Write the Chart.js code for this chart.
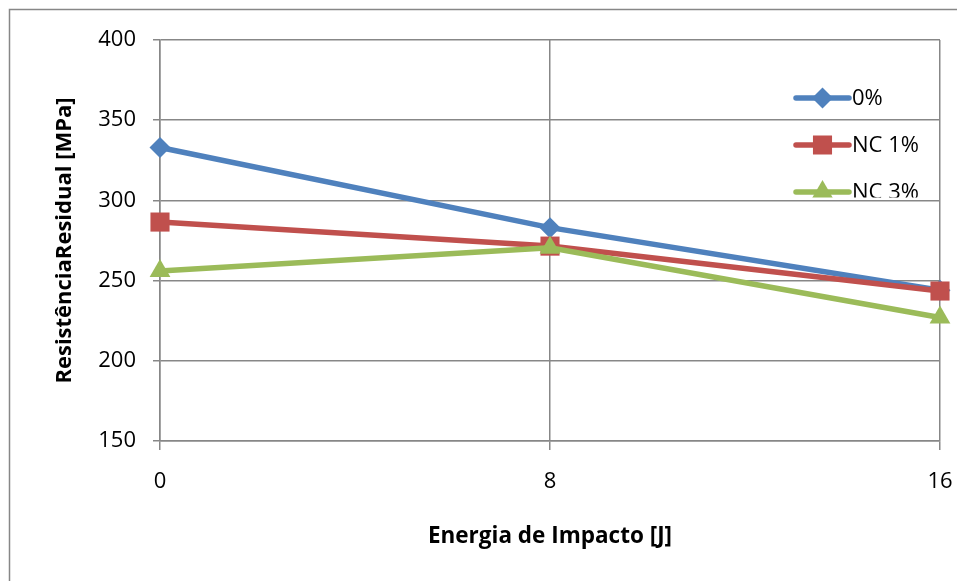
<!DOCTYPE html>
<html>
<head>
<meta charset="utf-8">
<script src="https://cdn.jsdelivr.net/npm/chart.js@4/dist/chart.umd.min.js"></script>
<style>
  html, body { margin: 0; padding: 0; background: #fff; }
  #wrap { width: 957px; height: 581px; position: relative; }
</style>
</head>
<body>
<div id="wrap"><canvas id="c" width="957" height="581"></canvas></div>
<script>
// Impact energy (J) on the x axis
const energy = [0, 8, 16];
// Residual strength (MPa) for each nanoclay content
const series0 = [333, 283, 244];
const seriesNC1 = [286.5, 271.5, 243.5];
const seriesNC3 = [256, 270.5, 227];
const seriesNames = ['0%', 'NC 1%', 'NC 3%'];
const yTicks = [150, 200, 250, 300, 350, 400];

const FONT = '"Open Sans", "Noto Sans", sans-serif';
const GRID = '#878787';
const colors = ['#4F81BD', '#C0504D', '#9BBB59'];
const markers = ['rectRot', 'rect', 'triangle'];
const radii = [10.5, 13.5, 12];

function pairs(xs, ys) { return xs.map((x, i) => ({ x: x, y: ys[i] })); }

const allSeries = [series0, seriesNC1, seriesNC3];
const datasets = allSeries.map((s, i) => ({
  label: seriesNames[i],
  data: pairs(energy, s),
  borderColor: colors[i],
  backgroundColor: colors[i],
  borderWidth: 5.5,
  pointStyle: markers[i],
  pointRadius: radii[i],
  pointHoverRadius: radii[i],
  pointBorderWidth: 0,
  tension: 0,
  clip: false,
  order: 2 - i
}));

// Outer frame around the whole chart
const framePlugin = {
  id: 'frame',
  beforeDraw(chart) {
    const ctx = chart.ctx;
    ctx.save();
    ctx.fillStyle = '#fff';
    ctx.fillRect(0, 0, chart.width, chart.height);
    ctx.strokeStyle = GRID;
    ctx.lineWidth = 1.5;
    ctx.strokeRect(9.5, 9.5, chart.width + 20, chart.height + 20);
    ctx.restore();
  }
};

// Legend drawn inside the plot, top right
const legendPlugin = {
  id: 'inlineLegend',
  afterDatasetsDraw(chart) {
    const ctx = chart.ctx;
    const ys = chart.scales.y;
    const clipBottom = ys.getPixelForValue(300) - 3;
    ctx.save();
    ctx.beginPath();
    ctx.rect(780, 60, 177, clipBottom - 60);
    ctx.clip();
    const x0 = 796, x1 = 849, rowY = [98, 145, 192];
    chart.data.datasets.forEach((ds, i) => {
      const y = rowY[i];
      ctx.strokeStyle = ds.borderColor;
      ctx.fillStyle = ds.backgroundColor;
      ctx.lineWidth = ds.borderWidth;
      ctx.lineCap = 'round';
      ctx.beginPath();
      ctx.moveTo(x0, y);
      ctx.lineTo(x1, y);
      ctx.stroke();
      Chart.helpers.drawPoint(ctx, {
        pointStyle: ds.pointStyle,
        radius: ds.pointRadius,
        rotation: 0,
        borderWidth: 0
      }, (x0 + x1) / 2, y);
      ctx.fillStyle = '#000';
      ctx.font = '22px ' + FONT;
      ctx.textBaseline = 'middle';
      ctx.textAlign = 'left';
      ctx.fillText(ds.label, x1 + 3, y + 1);
    });
    ctx.restore();
  }
};

new Chart(document.getElementById('c'), {
  type: 'line',
  data: { datasets: datasets },
  options: {
    responsive: false,
    animation: false,
    events: [],
    layout: { padding: { left: 0, top: 40, right: 17, bottom: 0 } },
    plugins: {
      legend: { display: false },
      tooltip: { enabled: false }
    },
    scales: {
      x: {
        type: 'linear',
        min: energy[0],
        max: energy[energy.length - 1],
        afterBuildTicks(scale) { scale.ticks = energy.map(v => ({ value: v })); },
        afterFit(scale) {
          scale.height = 140;
          scale.paddingLeft = 0;
          scale.paddingRight = 0;
        },
        grid: { color: GRID, lineWidth: 1.5, tickLength: 9, drawTicks: true },
        border: { color: GRID, width: 1.5 },
        ticks: { color: '#000', font: { family: FONT, size: 22 }, padding: 19, maxRotation: 0 },
        title: {
          display: true,
          text: 'Energia de Impacto [J]',
          color: '#000',
          font: { family: FONT, size: 22.5, weight: 'bold' },
          padding: { top: 0, bottom: 31 }
        }
      },
      y: {
        type: 'linear',
        min: yTicks[0],
        max: yTicks[yTicks.length - 1],
        afterBuildTicks(scale) { scale.ticks = yTicks.map(v => ({ value: v })); },
        afterFit(scale) { scale.width = 160; },
        grid: { color: GRID, lineWidth: 1.5, tickLength: 7 },
        border: { color: GRID, width: 1.5 },
        ticks: { color: '#000', font: { family: FONT, size: 22 }, padding: 17 },
        title: {
          display: true,
          text: 'ResistênciaResidual [MPa]',
          color: '#000',
          font: { family: FONT, size: 22, weight: 'bold' },
          padding: { top: 52, bottom: 0 }
        }
      }
    }
  },
  plugins: [framePlugin, legendPlugin]
});
</script>
</body>
</html>
